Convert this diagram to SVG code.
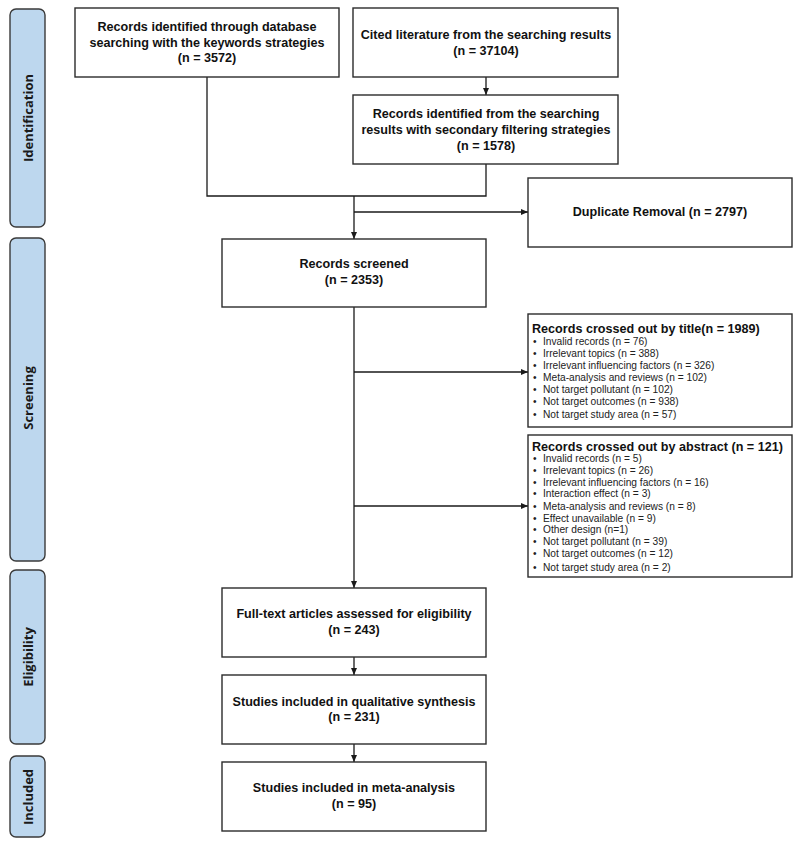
<svg xmlns="http://www.w3.org/2000/svg" width="800" height="849" viewBox="0 0 800 849">
<defs>
<marker id="ah" markerWidth="8" markerHeight="8" refX="7" refY="4" orient="auto" markerUnits="userSpaceOnUse">
<path d="M0,1 L7,4 L0,7 Z" fill="#1a1a1a"/>
</marker>
<style>
.box{fill:#fff;stroke:#2b2b2b;stroke-width:1.4}
.phase{fill:#bdd7ee;stroke:#3a3a3a;stroke-width:1.4}
.ph{font-family:"Open Sans","Liberation Sans",sans-serif;font-weight:700;font-size:13px;fill:#1a1a1a;text-anchor:middle}
.t{font-family:"Liberation Sans",Arial,sans-serif;font-weight:700;font-size:12.6px;fill:#111;text-anchor:middle}
.hd{font-family:"Liberation Sans",Arial,sans-serif;font-weight:700;font-size:12.6px;fill:#111}
.it{font-family:"Liberation Sans",Arial,sans-serif;font-size:10.2px;fill:#222}
.c{fill:none;stroke:#1a1a1a;stroke-width:1.3}
</style>
</defs>
<rect width="800" height="849" fill="#fff"/>
<g id="phases">
<g id="ph-identification"><rect class="phase" x="10" y="9" width="35" height="218" rx="6"/><text class="ph" transform="translate(33,118) rotate(-90)">Identification</text></g>
<g id="ph-screening"><rect class="phase" x="10" y="238" width="35" height="323" rx="6"/><text class="ph" transform="translate(33,398) rotate(-90)">Screening</text></g>
<g id="ph-eligibility"><rect class="phase" x="10" y="570" width="35" height="174" rx="6"/><text class="ph" transform="translate(33,657) rotate(-90)">Eligibility</text></g>
<g id="ph-included"><rect class="phase" x="10" y="756" width="35" height="81" rx="6"/><text class="ph" transform="translate(33,797) rotate(-90)">Included</text></g>
</g>
<g id="connectors">
<line class="c" x1="486" y1="77" x2="486" y2="95" marker-end="url(#ah)"/>
<polyline class="c" points="207,77 207,196 486,196 486,164"/>
<line class="c" x1="354" y1="196" x2="354" y2="239" marker-end="url(#ah)"/>
<line class="c" x1="354" y1="212" x2="528" y2="212" marker-end="url(#ah)"/>
<line class="c" x1="354" y1="307" x2="354" y2="588" marker-end="url(#ah)"/>
<line class="c" x1="354" y1="372" x2="528" y2="372" marker-end="url(#ah)"/>
<line class="c" x1="354" y1="506" x2="528" y2="506" marker-end="url(#ah)"/>
<line class="c" x1="354" y1="657" x2="354" y2="675" marker-end="url(#ah)"/>
<line class="c" x1="354" y1="744" x2="354" y2="762" marker-end="url(#ah)"/>
</g>
<g id="n-database"><rect class="box" x="75" y="8" width="264" height="69"/>
<text class="t" x="207" y="31">Records identified through database</text>
<text class="t" x="207" y="47">searching with the keywords strategies</text>
<text class="t" x="207" y="62">(n = 3572)</text></g>
<g id="n-cited"><rect class="box" x="353" y="8" width="265" height="69"/>
<text class="t" x="486" y="39">Cited literature from the searching results</text>
<text class="t" x="486" y="55">(n = 37104)</text></g>
<g id="n-secondary"><rect class="box" x="353" y="95" width="265" height="69"/>
<text class="t" x="486" y="118">Records identified from the searching</text>
<text class="t" x="486" y="134">results with secondary filtering strategies</text>
<text class="t" x="486" y="150">(n = 1578)</text></g>
<g id="n-duplicate"><rect class="box" x="528" y="178" width="264" height="69"/>
<text class="t" x="660" y="216">Duplicate Removal (n = 2797)</text></g>
<g id="n-screened"><rect class="box" x="222" y="239" width="264" height="68"/>
<text class="t" x="354" y="268">Records screened</text>
<text class="t" x="354" y="284">(n = 2353)</text></g>
<g id="n-title"><rect class="box" x="528" y="314" width="264" height="113"/>
<text class="hd" x="532" y="333">Records crossed out by title(n = 1989)</text>
<g class="it">
<text x="533" y="345">•</text><text x="543" y="345">Invalid records (n = 76)</text>
<text x="533" y="357">•</text><text x="543" y="357">Irrelevant topics (n = 388)</text>
<text x="533" y="369">•</text><text x="543" y="369">Irrelevant influencing factors (n = 326)</text>
<text x="533" y="381">•</text><text x="543" y="381">Meta-analysis and reviews (n = 102)</text>
<text x="533" y="393">•</text><text x="543" y="393">Not target pollutant (n = 102)</text>
<text x="533" y="405">•</text><text x="543" y="405">Not target outcomes (n = 938)</text>
<text x="533" y="418">•</text><text x="543" y="418">Not target study area (n = 57)</text>
</g></g>
<g id="n-abstract"><rect class="box" x="528" y="435" width="264" height="142"/>
<text class="hd" x="532" y="451">Records crossed out by abstract (n = 121)</text>
<g class="it">
<text x="533" y="462">•</text><text x="543" y="462">Invalid records (n = 5)</text>
<text x="533" y="474">•</text><text x="543" y="474">Irrelevant topics (n = 26)</text>
<text x="533" y="486">•</text><text x="543" y="486">Irrelevant influencing factors (n = 16)</text>
<text x="533" y="497">•</text><text x="543" y="497">Interaction effect (n = 3)</text>
<text x="533" y="510">•</text><text x="543" y="510">Meta-analysis and reviews (n = 8)</text>
<text x="533" y="522">•</text><text x="543" y="522">Effect unavailable (n = 9)</text>
<text x="533" y="533">•</text><text x="543" y="533">Other design (n=1)</text>
<text x="533" y="545">•</text><text x="543" y="545">Not target pollutant (n = 39)</text>
<text x="533" y="557">•</text><text x="543" y="557">Not target outcomes (n = 12)</text>
<text x="533" y="571">•</text><text x="543" y="571">Not target study area (n = 2)</text>
</g></g>
<g id="n-fulltext"><rect class="box" x="222" y="588" width="264" height="69"/>
<text class="t" x="354" y="618">Full-text articles assessed for eligibility</text>
<text class="t" x="354" y="634">(n = 243)</text></g>
<g id="n-qualitative"><rect class="box" x="222" y="675" width="264" height="69"/>
<text class="t" x="354" y="706">Studies included in qualitative synthesis</text>
<text class="t" x="354" y="721">(n = 231)</text></g>
<g id="n-meta"><rect class="box" x="222" y="762" width="264" height="69"/>
<text class="t" x="354" y="792">Studies included in meta-analysis</text>
<text class="t" x="354" y="808">(n = 95)</text></g>
</svg>
